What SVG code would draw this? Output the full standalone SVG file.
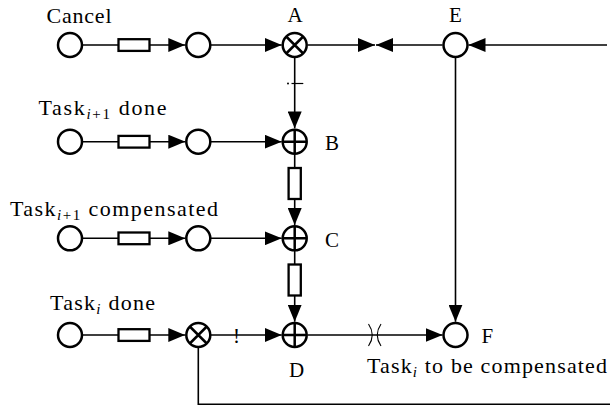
<svg xmlns="http://www.w3.org/2000/svg" width="610" height="406" viewBox="0 0 610 406">
<defs>
<marker id="ah" viewBox="0 0 17 14" refX="17" refY="7" markerWidth="17" markerHeight="14" markerUnits="userSpaceOnUse" orient="auto">
<path d="M0,0 L17,7 L0,14 z" fill="#000"/>
</marker>
</defs>
<style>
.n{fill:#fff;stroke:#000;stroke-width:2.5}
.x{fill:none;stroke:#000;stroke-width:2.5}
.r{fill:#fff;stroke:#000;stroke-width:2.3}
.c{fill:none;stroke:#000;stroke-width:1.6}
.a{marker-end:url(#ah)}
text{font-family:"Liberation Serif","Times New Roman",serif;fill:#000}
.t{font-size:22px}
.l{font-size:21px}
.s{font-size:15px}
.m{fill:none;stroke:#000;stroke-width:1.1}
</style>
<g id="connectors">
<path class="c" d="M82,45 H118.5 M82,141.7 H118.5 M82,238.3 H118.5 M82,335 H118.5"/>
<path class="c a" d="M150,45 H185.3"/>
<path class="c a" d="M150,141.7 H185.3"/>
<path class="c a" d="M150,238.3 H185.3"/>
<path class="c a" d="M150,335 H185.3"/>
<path class="c a" d="M210.3,45 H281.7"/>
<path class="c a" d="M210.3,141.7 H281.7"/>
<path class="c a" d="M210.3,238.3 H281.7"/>
<path class="c a" d="M210.3,335 H281.7"/>
<path class="c a" d="M294.7,57 V128.4"/>
<path class="c" d="M294.7,154 V168 M294.7,250.5 V264.5"/>
<path class="c a" d="M294.7,199 V225"/>
<path class="c a" d="M294.7,295.5 V321.7"/>
<path class="c a" d="M307.7,45 H375"/>
<path class="c a" d="M442.5,45 H376"/>
<path class="c a" d="M607,45 H468.5"/>
<path class="c a" d="M455.5,58 V321.7"/>
<path class="c a" d="M307.7,335 H442.5"/>
<path class="c" d="M198.3,347.3 V404.3 H612"/>
<rect class="r" x="288.6" y="168" width="12.2" height="31"/>
<rect class="r" x="288.6" y="264.5" width="12.2" height="31"/>
<line x1="291.5" y1="83.5" x2="303.3" y2="83.5" stroke="#000" stroke-width="1.2"/>
<circle cx="288" cy="83.5" r="1" fill="#000"/>
<text class="l" x="236.5" y="342.5" text-anchor="middle">!</text>
<path class="m" d="M368.5,324 Q376,335 368.5,346 M381,324 Q373.5,335 381,346"/>
</g>
<g id="row1">
<circle class="n" cx="70" cy="45" r="12"/>
<rect class="r" x="118.5" y="39.2" width="31" height="11.7"/>
<circle class="n" cx="198.3" cy="45" r="12"/>
</g>
<g id="row2">
<circle class="n" cx="70" cy="141.7" r="12"/>
<rect class="r" x="118.5" y="135.9" width="31" height="11.7"/>
<circle class="n" cx="198.3" cy="141.7" r="12"/>
</g>
<g id="row3">
<circle class="n" cx="70" cy="238.3" r="12"/>
<rect class="r" x="118.5" y="232.5" width="31" height="11.7"/>
<circle class="n" cx="198.3" cy="238.3" r="12"/>
</g>
<g id="row4">
<circle class="n" cx="70" cy="335" r="12"/>
<rect class="r" x="118.5" y="329.2" width="31" height="11.7"/>
</g>
<g id="X">
<circle class="n" cx="198.3" cy="335" r="12"/>
<path class="x" d="M189.8,326.5 L206.8,343.5 M206.8,326.5 L189.8,343.5"/>
</g>
<g id="A">
<circle class="n" cx="294.7" cy="45" r="12"/>
<path class="x" d="M286.2,36.5 L303.2,53.5 M303.2,36.5 L286.2,53.5"/>
<text class="l" x="295" y="21.7" text-anchor="middle">A</text>
</g>
<g id="B">
<circle class="n" cx="294.7" cy="141.7" r="12"/>
<path class="x" d="M282.7,141.7 H306.7 M294.7,129.7 V153.7"/>
<text class="l" x="325" y="149.5">B</text>
</g>
<g id="C">
<circle class="n" cx="294.7" cy="238.3" r="12"/>
<path class="x" d="M282.7,238.3 H306.7 M294.7,226.3 V250.3"/>
<text class="l" x="325" y="246.5">C</text>
</g>
<g id="D">
<circle class="n" cx="294.7" cy="335" r="12"/>
<path class="x" d="M282.7,335 H306.7 M294.7,323 V347"/>
<text class="l" x="296.5" y="377" text-anchor="middle">D</text>
</g>
<g id="E">
<circle class="n" cx="455.5" cy="45" r="12"/>
<text class="l" x="455.5" y="21.7" text-anchor="middle">E</text>
</g>
<g id="F">
<circle class="n" cx="455.5" cy="335" r="12"/>
<text class="l" x="481.5" y="342.5">F</text>
</g>
<g id="labels">
<text class="t" x="46.5" y="22.5" textLength="65" lengthAdjust="spacing">Cancel</text>
<text class="t" x="38.5" y="115" textLength="128" lengthAdjust="spacing">Task<tspan class="s" dy="4"><tspan font-style="italic">i</tspan>+1</tspan><tspan dy="-4"> done</tspan></text>
<text class="t" x="10" y="216" textLength="208" lengthAdjust="spacing">Task<tspan class="s" dy="4"><tspan font-style="italic">i</tspan>+1</tspan><tspan dy="-4"> compensated</tspan></text>
<text class="t" x="50" y="309.5" textLength="105" lengthAdjust="spacing">Task<tspan class="s" dy="4" font-style="italic">i</tspan><tspan dy="-4"> done</tspan></text>
<text class="t" x="367" y="372.5" textLength="240" lengthAdjust="spacing">Task<tspan class="s" dy="4" font-style="italic">i</tspan><tspan dy="-4"> to be compensated</tspan></text>
</g>
</svg>
